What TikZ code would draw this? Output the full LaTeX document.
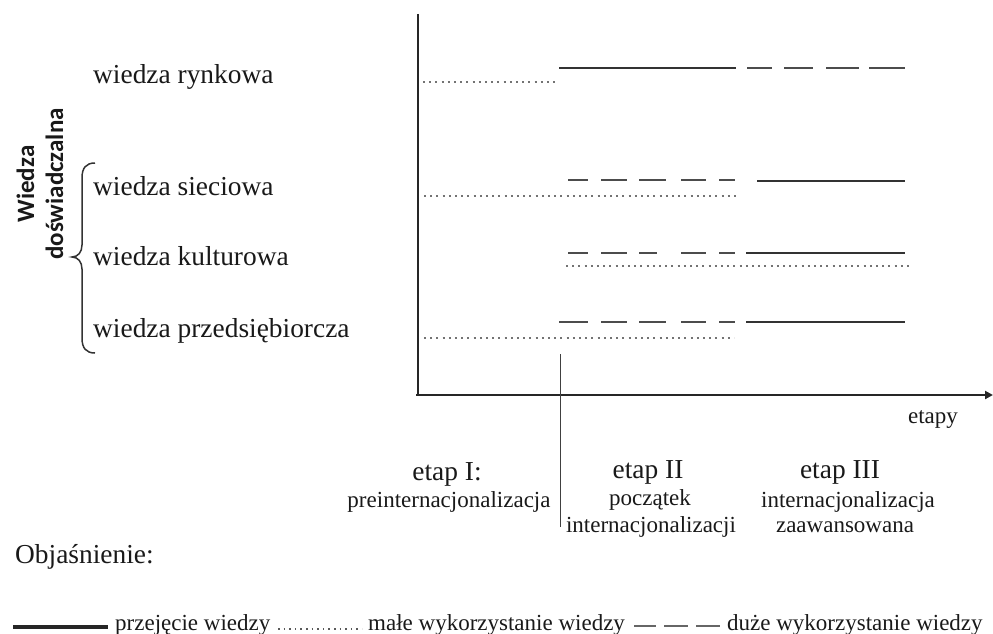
\documentclass[tikz,border=0pt]{standalone}
\usepackage{fontspec}
\setmainfont{Liberation Serif}
\newfontfamily\boldsans{Carlito}
\usetikzlibrary{arrows.meta}

\begin{document}
\begin{tikzpicture}[x=1pt,y=-1pt,
  axis/.style={line width=2.8pt, black!85},
  divider/.style={line width=1.8pt, black!75},
  acquire/.style={line width=2.6pt, black!80},
  heavyuse/.style={line width=2.6pt, black!70},
  lightuse/.style={line width=2pt, black!55, dash pattern=on 2pt off 4.2pt},
  bracket/.style={line width=1.5pt, black!80},
  bigtext/.style={font=\fontsize{27.4}{30}\selectfont, text=black!90, inner sep=0pt, anchor=base},
  smalltext/.style={font=\fontsize{23}{25}\selectfont, text=black!90, inner sep=0pt, anchor=base},
  rowlabel/.style={bigtext, anchor=base west},
  keytext/.style={smalltext, anchor=base west},
]
\useasboundingbox (0,0) rectangle (993,634);

% axes
\coordinate (ytop) at (418,14);
\coordinate (origin) at (418,395);
\coordinate (xend) at (993,395);
\draw[axis] (ytop) -- (origin);
\draw[axis, -{Triangle[length=8pt,width=8pt]}] (416,395) -- (xend);

% boundary between stage I and stage II
\coordinate (divtop) at (560.5,354);
\coordinate (divbot) at (560.5,527);
\draw[divider] (divtop) -- (divbot);

% row labels
\node[rowlabel] (rynek)  at (93,83)  {wiedza rynkowa};
\node[rowlabel] (siec)   at (93,195) {wiedza sieciowa};
\node[rowlabel] (kult)   at (93,265) {wiedza kulturowa};
\node[rowlabel] (przeds) at (93,337) {wiedza przedsiębiorcza};

% brace grouping the experiential kinds of knowledge
\draw[bracket] (95,163) .. controls (86,163) and (82,168) .. (82,178)
  -- (82,245) .. controls (82,252) and (78,257) .. (72,257)
  .. controls (78,257) and (82,262) .. (82,269)
  -- (82,338) .. controls (82,348) and (86,353) .. (95,353);
\node[rotate=90, align=center, inner sep=0pt, text=black!90,
      font=\boldsans\bfseries\fontsize{25}{29}\selectfont] (grupa) at (40,184)
  {Wiedza\\doświadczalna};

% wiedza rynkowa
\draw[lightuse] (423,82) -- (559,82);
\draw[acquire] (559,68) -- (736,68);
\foreach \a/\b in {747/772, 784/813, 826/859, 869/905}
  \draw[heavyuse] (\a,68) -- (\b,68);

% wiedza sieciowa
\draw[lightuse] (424,196) -- (740,196);
\foreach \a/\b in {568/588, 601/627, 639/666, 681/706, 719/735}
  \draw[heavyuse] (\a,180) -- (\b,180);
\draw[acquire] (757,181) -- (905,181);

% wiedza kulturowa
\draw[lightuse] (566,266) -- (911,266);
\foreach \a/\b in {568/588, 601/627, 639/657, 681/706, 719/735}
  \draw[heavyuse] (\a,253) -- (\b,253);
\draw[acquire] (746,253) -- (905,253);

% wiedza przedsiębiorcza
\draw[lightuse] (424,338) -- (734,338);
\foreach \a/\b in {559/588, 601/627, 639/666, 681/706, 719/735}
  \draw[heavyuse] (\a,322) -- (\b,322);
\draw[acquire] (746,322) -- (905,322);

% axis caption and stages
\node[smalltext] (etapy) at (933,423) {etapy};
\node[bigtext]   (e1)  at (447,480) {etap I:};
\node[smalltext] (e1a) at (449,507) {preinternacjonalizacja};
\node[bigtext]   (e2)  at (648,478) {etap II};
\node[smalltext] (e2a) at (650,505) {początek};
\node[smalltext] (e2b) at (651,532) {internacjonalizacji};
\node[bigtext]   (e3)  at (840,478) {etap III};
\node[smalltext] (e3a) at (848,507) {internacjonalizacja};
\node[smalltext] (e3b) at (845,532) {zaawansowana};

% key
\node[rowlabel] (objasn) at (15,563) {Objaśnienie:};
\draw[line width=3.2pt, black!85] (13,627) -- (108,627);
\node[keytext] (k1) at (115,630) {przejęcie wiedzy};
\draw[line width=1.6pt, black!65, dash pattern=on 1.6pt off 4pt] (278,629) -- (362,629);
\node[keytext] (k2) at (368,630) {małe wykorzystanie wiedzy};
\foreach \a/\b in {634/656, 664/688, 696/720}
  \draw[line width=1.6pt, black!60] (\a,626) -- (\b,626);
\node[keytext] (k3) at (727,630) {duże wykorzystanie wiedzy};
\end{tikzpicture}
\end{document}
